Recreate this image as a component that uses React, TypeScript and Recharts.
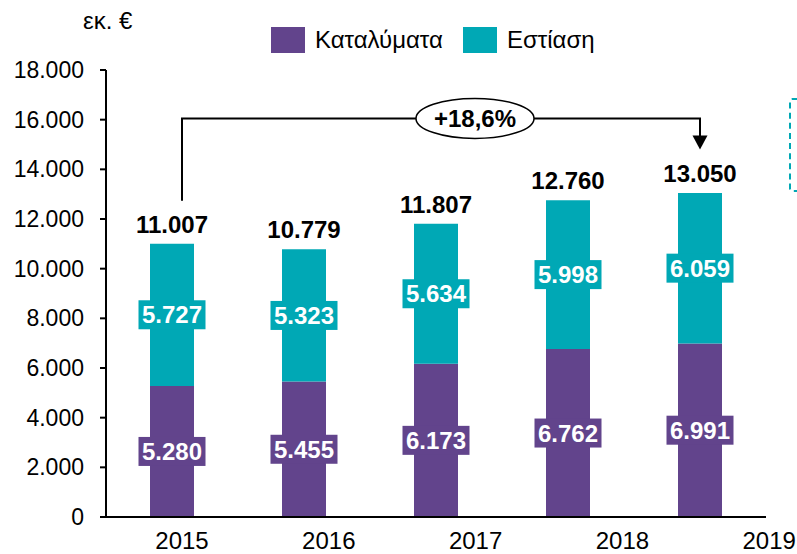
import React from 'react';
import { BarChart, Bar, XAxis, YAxis, LabelList, ReferenceLine } from 'recharts';

const years = ['2015', '2016', '2017', '2018', '2019'];
const accommodation = [5280, 5455, 6173, 6762, 6991];
const foodService = [5727, 5323, 5634, 5998, 6059];
const totals = [11007, 10779, 11807, 12760, 13050];
const yTicks = [0, 2000, 4000, 6000, 8000, 10000, 12000, 14000, 16000, 18000];
const seriesNames = ['Καταλύματα', 'Εστίαση'];
const unitLabel = 'εκ. €';
const growthLabel = '+18,6%';

const PURPLE = '#62448C';
const TEAL = '#00A8B5';
const FONT = '"Liberation Sans", Arial, sans-serif';

// bracket annotation heights (value units)
const bracketStart = 12730;
const bracketTop = 16050;
const arrowEnd = 14800;

const fmt = (v: number) => String(v).replace(/\B(?=(\d{3})+(?!\d))/g, '.');

const data = years.map((year, i) => ({
    year,
    acc: accommodation[i],
    food: foodService[i],
}));

const boxLabel = (color: string) => (props: any) => {
    const { x, y, width, height, value } = props;
    const cx = x + width / 2;
    const cy = y + height / 2;
    return (
        <g>
            <rect x={cx - 33.5} y={cy - 14.5} width={67} height={29} fill={color} />
            <text x={cx} y={cy + 8.5} textAnchor="middle" fill="#fff" fontSize={24} fontWeight="bold" fontFamily={FONT}>
                {fmt(value)}
            </text>
        </g>
    );
};

const totalLabel = (props: any) => {
    const { x, y, width, index } = props;
    return (
        <text x={x + width / 2} y={y - 11} textAnchor="middle" fill="#000" fontSize={24} fontWeight="bold" fontFamily={FONT}>
            {fmt(totals[index])}
        </text>
    );
};

const XTick = (props: any) => {
    const { x, y, payload, index } = props;
    return (
        <text x={x + 10 + index * 14.8} y={y + 30} textAnchor="middle" fill="#000" fontSize={24} fontFamily={FONT}>
            {payload.value}
        </text>
    );
};

export default function App() {
    return (
        <div style={{ position: 'absolute', left: 0, top: 0, width: 797, height: 554, overflow: 'hidden', background: '#fff', fontFamily: FONT }}>
            <div style={{ position: 'absolute', left: 83, top: 7, fontSize: 24, color: '#000' }}>{unitLabel}</div>

            <div style={{ position: 'absolute', left: 271, top: 26, display: 'flex', alignItems: 'center', fontSize: 24, color: '#000' }}>
                {seriesNames.map((name, i) => (
                    <div key={name} style={{ display: 'flex', alignItems: 'center', marginRight: 20 }}>
                        <div style={{ width: 34, height: 26, background: i === 0 ? PURPLE : TEAL, marginRight: 10 }} />
                        <span>{name}</span>
                    </div>
                ))}
            </div>

            <div style={{ position: 'absolute', left: 789, top: 98, width: 40, height: 90, border: `2px dashed ${TEAL}`, borderRadius: 3 }} />

            <BarChart width={797} height={554} data={data} margin={{ top: 70, right: 31, left: 0, bottom: 0 }}>
                <XAxis
                    dataKey="year"
                    height={37}
                    tickLine={false}
                    tickSize={0}
                    axisLine={{ stroke: '#000', strokeWidth: 2 }}
                    tick={<XTick />}
                    interval={0}
                />
                <YAxis
                    width={106}
                    domain={[0, 18000]}
                    ticks={yTicks}
                    tickFormatter={fmt}
                    tickSize={6}
                    tickMargin={16}
                    tickLine={{ stroke: '#000', strokeWidth: 2 }}
                    axisLine={{ stroke: '#000', strokeWidth: 2 }}
                    tick={{ fill: '#000', fontSize: 23, fontFamily: FONT }}
                />
                <Bar dataKey="acc" stackId="a" fill={PURPLE} barSize={44} isAnimationActive={false}>
                    <LabelList dataKey="acc" content={boxLabel(PURPLE)} />
                </Bar>
                <Bar dataKey="food" stackId="a" fill={TEAL} barSize={44} isAnimationActive={false}>
                    <LabelList dataKey="food" content={boxLabel(TEAL)} />
                    <LabelList dataKey="food" content={totalLabel} />
                </Bar>

                <ReferenceLine
                    segment={[{ x: years[0], y: bracketStart }, { x: years[0], y: bracketTop }]}
                    shape={(p: any) => <line x1={p.x1 + 10} y1={p.y1} x2={p.x2 + 10} y2={p.y2} stroke="#000" strokeWidth={2} />}
                />
                <ReferenceLine
                    segment={[{ x: years[0], y: bracketTop }, { x: years[4], y: bracketTop }]}
                    shape={(p: any) => {
                        const left = Math.min(p.x1, p.x2) + 10;
                        const right = Math.max(p.x1, p.x2);
                        const cx = (left + right) / 2 + 34;
                        return (
                            <g>
                                <line x1={left - 1} y1={p.y1} x2={right + 1} y2={p.y2} stroke="#000" strokeWidth={2} />
                                <ellipse cx={cx} cy={p.y1} rx={59} ry={20} fill="#fff" stroke="#000" strokeWidth={1.5} />
                                <text x={cx} y={p.y1 + 8.5} textAnchor="middle" fill="#000" fontSize={24} fontWeight="bold" fontFamily={FONT}>
                                    {growthLabel}
                                </text>
                            </g>
                        );
                    }}
                />
                <ReferenceLine
                    segment={[{ x: years[4], y: bracketTop }, { x: years[4], y: arrowEnd }]}
                    shape={(p: any) => {
                        const top = Math.min(p.y1, p.y2);
                        const tip = Math.max(p.y1, p.y2);
                        return (
                            <g>
                                <line x1={p.x1} y1={top} x2={p.x1} y2={tip - 13} stroke="#000" strokeWidth={2} />
                                <polygon points={`${p.x1 - 7.5},${tip - 14} ${p.x1 + 7.5},${tip - 14} ${p.x1},${tip}`} fill="#000" />
                            </g>
                        );
                    }}
                />
            </BarChart>
        </div>
    );
}
